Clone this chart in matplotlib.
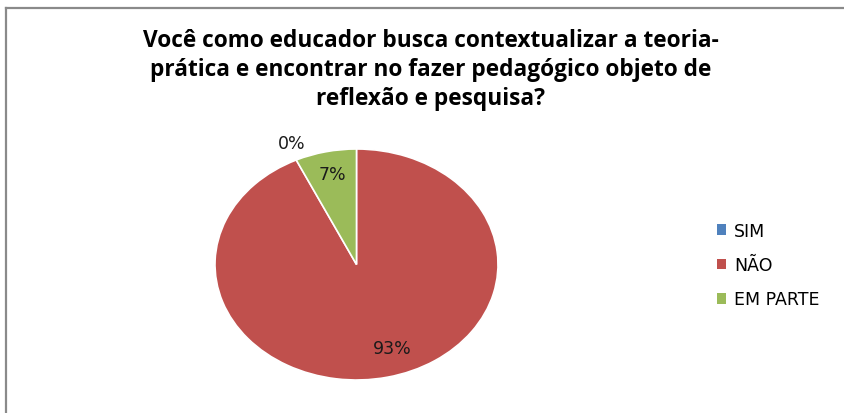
import matplotlib
matplotlib.use("Agg")
import matplotlib.pyplot as plt
from matplotlib.lines import Line2D
from matplotlib.patches import Patch

# data
categories = ["SIM", "NÃO", "EM PARTE"]
values = [0, 93, 7]
colors = ["#4F81BD", "#C0504D", "#9BBB59"]
title = ("Você como educador busca contextualizar a teoria-\n"
         "prática e encontrar no fazer pedagógico objeto de\n"
         "reflexão e pesquisa?")

W, H = 844, 414
fig = plt.figure(figsize=(W / 100, H / 100), dpi=100)

# chart border (only top and left visible in the crop)
border = dict(color="#8a8a8a", linewidth=1.6, transform=fig.transFigure)
fig.add_artist(Line2D([6 / W, 6 / W], [0, 1 - 9 / H], **border))
fig.add_artist(Line2D([6 / W, 1], [1 - 9 / H, 1 - 9 / H], **border))

fig.text(431 / W, 1 - 70 / H, title, ha="center", va="center",
         fontsize=16.3, fontweight="bold", family="Open Sans", linespacing=1.28)

# pie is drawn as an ellipse (aspect auto)
ax = fig.add_axes([215 / W, 1 - 381 / H, 283 / W, 231 / H])
wedges, texts = ax.pie(values, colors=colors, startangle=90, counterclock=False,
                       wedgeprops=dict(edgecolor="white", linewidth=1.2))
ax.set_aspect("auto")
ax.set_xlim(-1.0, 1.0)
ax.set_ylim(-1.0, 1.0)

# percentage labels (0% sits outside the pie as in the original)
label_pos = {"SIM": (-0.46, 1.05), "NÃO": (0.25, -0.72), "EM PARTE": (-0.17, 0.78)}
for cat, v in zip(categories, values):
    ax.text(*label_pos[cat], f"{v}%", ha="center", va="center",
            fontsize=12.5, color="#1a1a1a", family="DejaVu Sans")

handles = [Patch(facecolor=c, edgecolor="none") for c in colors]
fig.legend(handles, categories, loc="center left", bbox_to_anchor=(701 / W, 1 - 266 / H),
           frameon=False, handlelength=0.55, handleheight=0.55,
           handletextpad=0.45, labelspacing=0.95,
           prop={"family": "DejaVu Sans", "size": 12.5})

fig.savefig("out.png", dpi=100)
